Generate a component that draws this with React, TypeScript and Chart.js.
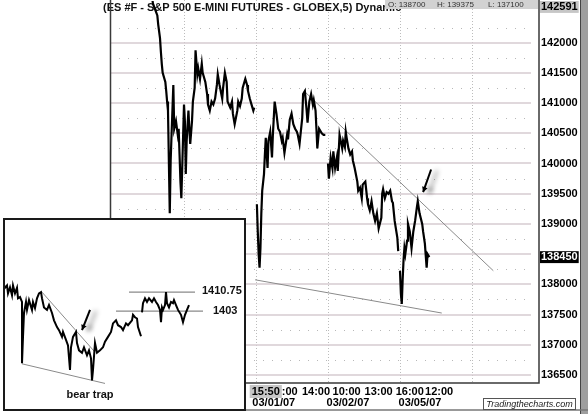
import React, { useEffect, useRef } from "react";
import { Chart, registerables } from "chart.js";
Chart.register(...registerables);

const FONT = "'Liberation Sans', Arial, Helvetica, sans-serif";

// ---------- MAIN CHART DATA (5-minute bars, 81 per session; ES price x100) ----------
const chartTitle = "(ES #F - S&P 500 E-MINI FUTURES - GLOBEX,5) Dynamic";
const ohlText = ["O: 138700", "H: 139375", "L: 137100"];
const watermark = "Tradingthecharts.com";

const sessionBreaks = [81, 162, 243, 324, 405];
const priceMajor = [136500, 137000, 137500, 138000, 138500, 139000, 139500, 140000, 140500, 141000, 141500, 142000];
const priceMinor = [136750, 137250, 137750, 138250, 138750, 139250, 139750, 140250, 140750, 141250, 141750, 142250];
const yTicks = [136500, 137000, 137500, 138000, 138450, 139000, 139500, 140000, 140500, 141000, 141500, 142000, 142591];
const lastPrice = 138450;
const topPrice = 142591;
const yMin = 136367;

const timeTickBars = [173, 200, 229.5, 264, 300, 335, 368];
const timeTickLabels = ["15:50", ":00", "14:00", "10:00", "13:00", "16:00", "12:00"];
const dateTickBars = [182, 265.5, 346.5];
const dateTickLabels = ["03/01/07", "03/02/07", "03/05/07"];
const highlightedTime = 173;

// sessions: [bar, price]
const sessionFeb27to28: [number, number][] = [
  [44, 142900], [46, 142650], [51, 142450], [52, 142300], [54, 142075], [55, 141850], [56, 141650], [57, 141500],
  [60, 141350], [61, 141200], [62, 141025], [63, 140875], [65, 139175], [66, 140050], [67, 140475], [69, 141300],
  [70, 140575], [72, 140700], [74, 140475], [75, 140575], [76, 140150], [77, 139700], [78, 139425], [79, 139925],
  [81, 140975], [82, 140700], [83, 139825], [84, 140375], [86, 140875], [87, 140575], [88, 140325], [90, 140700],
  [91, 141025], [93, 141250], [94, 141875], [96, 141475], [97, 141575], [99, 141400], [101, 141650], [102, 141500],
  [105, 141350], [107, 141150], [108, 140975], [110, 140875], [112, 141025], [114, 140975], [116, 141075], [118, 141300],
  [119, 141475], [121, 141300], [124, 141075], [125, 141250], [127, 141500], [129, 141350], [130, 141025], [133, 140925],
  [135, 141025], [136, 140825], [138, 140650], [141, 140875], [142, 141025], [144, 140950], [146, 141075], [147, 141250],
  [150, 141400], [152, 141300], [153, 141200], [155, 141075], [157, 140975], [159, 140875], [160, 140925],
];
const sessionMar01: [number, number][] = [
  [163, 139325], [164, 138875], [165, 138500], [166, 138275], [167, 138600], [168, 139175], [169, 139550], [171, 139825],
  [172, 140150], [173, 140425], [175, 139925], [176, 140375], [178, 140525], [180, 140100], [181, 140475], [183, 141025],
  [185, 140825], [187, 140575], [189, 140525], [191, 140375], [192, 140425], [194, 140175], [197, 140475], [198, 140400],
  [200, 140725], [202, 140825], [204, 140650], [206, 140575], [208, 140525], [209, 140475], [211, 140325], [214, 140750],
  [215, 141150], [217, 141200], [219, 140875], [220, 140675], [222, 141025], [224, 141150], [226, 140975], [227, 141050],
  [229, 140875], [230, 140575], [231, 140250], [233, 140575], [236, 140500], [238, 140475], [240, 140475],
];
const sessionMar02: [number, number][] = [
  [243, 140000], [244, 139750], [246, 140100], [248, 139925], [249, 140200], [251, 139925], [253, 140100], [254, 139875],
  [256, 140475], [259, 140250], [260, 140375], [262, 140275], [263, 140525], [264, 140425], [266, 140250], [268, 140150],
  [270, 140200], [271, 140050], [273, 139925], [276, 139700], [277, 139550], [279, 139600], [281, 139425], [282, 139650],
  [285, 139700], [287, 139425], [288, 139325], [290, 139225], [292, 139375], [294, 139175], [296, 139050], [298, 139175],
  [299, 139050], [300, 138925], [303, 139100], [304, 139500], [305, 139575], [307, 139425], [309, 139525], [311, 139500],
  [313, 139550], [315, 139375], [316, 139350], [318, 139050], [321, 138775], [322, 138550],
];
const sessionMar05: [number, number][] = [
  [324, 138225], [325, 137850], [326, 137675], [327, 138075], [328, 138400], [329, 138600], [330, 138500], [332, 138725],
  [333, 139000], [335, 138875], [337, 138600], [339, 138875], [341, 139050], [343, 139275], [344, 139375], [346, 139175],
  [349, 139000], [350, 138875], [352, 138675], [354, 138275], [355, 138500], [357, 138450],
];
const upperTrend: [number, number][] = [[216, 141200], [429, 138225]];
const lowerTrend: [number, number][] = [[161, 138075], [371, 137525]];
const mainArrow: [number, number][] = [[359, 139900], [350, 139525]];

// ---------- INSET DATA (index points) ----------
const insetLeg1: [number, number][] = [
  [0, 1414.75], [2, 1412.5], [4, 1413.5], [5, 1410.25], [7, 1412.75], [9, 1409.5], [10, 1413.5], [12, 1410.25],
  [14, 1412.5], [15, 1408.25], [17, 1408.75], [19, 1406.75], [19, 1381.75], [20, 1392.5], [21, 1402.25], [23, 1406.75],
  [24, 1403.5], [26, 1407.5], [29, 1403.5], [30, 1406.75], [32, 1404.25], [34, 1408.25], [36, 1410.25], [38, 1410.75],
  [39, 1408.25], [41, 1404.5], [44, 1403.5], [46, 1405.5], [49, 1402.25], [51, 1399.25], [54, 1396.5], [56, 1395.25],
  [59, 1392.5], [60, 1394.5], [63, 1391.25], [65, 1389], [67, 1379], [68, 1388.25], [70, 1392.5], [73, 1394.5],
  [74, 1390], [76, 1387], [79, 1386], [81, 1388.25], [84, 1385], [86, 1387], [88, 1383.75], [89, 1374.75],
  [90, 1379], [92, 1390], [94, 1386], [97, 1387], [100, 1388.25], [102, 1390.5], [105, 1392.5], [108, 1394.5],
  [110, 1398], [113, 1399.25], [115, 1397.25], [118, 1396.5], [120, 1395.25], [123, 1398], [125, 1397.25], [129, 1399.25],
  [130, 1401.5], [132, 1400.5], [134, 1400], [135, 1396.5], [138, 1392.75],
];
const insetLeg2: [number, number][] = [
  [139, 1402.5], [140, 1406.25], [142, 1408.25], [144, 1406.75], [146, 1408.25], [149, 1406.75], [151, 1408.25], [153, 1406.75],
  [155, 1405.5], [157, 1403.5], [158, 1398.5], [159, 1404.5], [160, 1403.5], [162, 1405.5], [163, 1410.75], [164, 1406.25],
  [166, 1404.5], [168, 1406.75], [170, 1406.25], [171, 1407.5], [173, 1405.5], [175, 1403.5], [178, 1401.5], [180, 1398.5],
  [182, 1401.5], [184, 1403.5], [186, 1405.5],
];
const insetUpperTrend: [number, number][] = [[39, 1410.75], [92, 1386.25]];
const insetLowerTrend: [number, number][] = [[19, 1381.5], [102, 1373.5]];
const resistanceLevel = 1410.75;
const resistanceSpan = [126, 192];
const supportLevel = 1403;
const supportSpan = [113, 200];
const levelLabelBars = [199, 210];
const bearTrapLabel: [number, number] = [87, 1368.75];
const insetArrow: [number, number][] = [[87, 1403.5], [79, 1395.25]];

// ---------- helpers ----------
const toPts = (arr: [number, number][]) => arr.map(([x, y]) => ({ x, y }));
const withGaps = (sessions: [number, number][][]) => {
  const out: { x: number; y: number | null }[] = [];
  sessions.forEach((s, i) => {
    if (i > 0) out.push({ x: s[0][0] - 1, y: null });
    out.push(...toPts(s));
  });
  return out;
};

function drawArrow(ctx: CanvasRenderingContext2D, x1: number, y1: number, x2: number, y2: number) {
  ctx.save();
  ctx.shadowColor = "rgba(0,0,0,0.45)";
  ctx.shadowBlur = 5;
  ctx.shadowOffsetX = 6;
  ctx.shadowOffsetY = 1;
  ctx.strokeStyle = "#000";
  ctx.fillStyle = "#000";
  ctx.lineWidth = 2;
  ctx.beginPath();
  ctx.moveTo(x1, y1);
  ctx.lineTo(x2, y2);
  ctx.stroke();
  const ang = Math.atan2(y2 - y1, x2 - x1);
  const L = 6;
  ctx.beginPath();
  ctx.moveTo(x2, y2);
  ctx.lineTo(x2 - L * Math.cos(ang - 0.5), y2 - L * Math.sin(ang - 0.5));
  ctx.lineTo(x2 - L * Math.cos(ang + 0.5), y2 - L * Math.sin(ang + 0.5));
  ctx.closePath();
  ctx.fill();
  ctx.restore();
}

const xLabelMap = new Map<number, string | string[]>();
timeTickBars.forEach((b, i) => xLabelMap.set(b, timeTickLabels[i]));
dateTickBars.forEach((b, i) => xLabelMap.set(b, ["", dateTickLabels[i]]));
const xTickValues = [...timeTickBars, ...dateTickBars].sort((a, b) => a - b);

const mainDecor = {
  id: "mainDecor",
  beforeDatasetsDraw(chart: any) {
    const { ctx, chartArea: a, scales } = chart;
    const x = scales.x, y = scales.y;
    ctx.save();
    const line = (x1: number, y1: number, x2: number, y2: number) => {
      ctx.beginPath(); ctx.moveTo(x1, y1); ctx.lineTo(x2, y2); ctx.stroke();
    };
    // minor dotted horizontal
    ctx.strokeStyle = "#b8b8b8"; ctx.lineWidth = 1; ctx.setLineDash([1, 8]);
    priceMinor.forEach((v) => {
      const py = Math.round(y.getPixelForValue(v)) + 0.5;
      if (py > a.top && py < a.bottom) line(a.left, py, a.right - 8, py);
    });
    // vertical dotted (session breaks)
    ctx.strokeStyle = "#bcbcbc"; ctx.setLineDash([1, 2]);
    sessionBreaks.forEach((b) => {
      const px = Math.round(x.getPixelForValue(b)) + 0.5;
      line(px, 0, px, a.bottom);
    });
    // major solid
    ctx.setLineDash([]); ctx.strokeStyle = "#d6cbd0"; ctx.lineWidth = 1.5;
    priceMajor.forEach((v) => {
      const py = Math.round(y.getPixelForValue(v));
      line(a.left, py, a.right - 8, py);
    });
    // title
    ctx.font = `bold 11px ${FONT}`;
    ctx.fillStyle = "#111";
    ctx.textBaseline = "alphabetic";
    ctx.textAlign = "left";
    ctx.fillText(chartTitle, 103, 11);
    ctx.restore();
  },
  afterDatasetsDraw(chart: any) {
    const { ctx, chartArea: a, scales } = chart;
    const x = scales.x, y = scales.y;
    ctx.save();
    // plot borders
    ctx.strokeStyle = "#3a3a3a"; ctx.lineWidth = 1.5;
    ctx.beginPath();
    ctx.moveTo(a.left + 0.5, 0); ctx.lineTo(a.left + 0.5, a.bottom);
    ctx.lineTo(a.right, a.bottom); ctx.lineTo(a.right, 0);
    ctx.stroke();
    // OHL box
    ctx.fillStyle = "#d2d2d2";
    ctx.fillRect(385, 0, 153, 9);
    ctx.font = `8px ${FONT}`;
    ctx.fillStyle = "#333";
    ctx.textBaseline = "middle";
    [388, 437, 488].forEach((px, i) => ctx.fillText(ohlText[i], px, 4.5));
    // arrow
    const [t, h] = mainArrow;
    drawArrow(ctx, x.getPixelForValue(t[0]), y.getPixelForValue(t[1]), x.getPixelForValue(h[0]), y.getPixelForValue(h[1]));
    // right frame strip
    ctx.fillStyle = "#9e9e9e";
    ctx.fillRect(580, 0, 8, 414);
    ctx.strokeStyle = "#444"; ctx.lineWidth = 1;
    ctx.beginPath(); ctx.moveTo(580.5, 0); ctx.lineTo(580.5, 414); ctx.stroke();
    // bottom line
    ctx.strokeStyle = "#777"; ctx.lineWidth = 1.5;
    ctx.beginPath(); ctx.moveTo(240, 410); ctx.lineTo(588, 410); ctx.stroke();
    // watermark
    ctx.fillStyle = "#fff";
    ctx.fillRect(483, 398, 93, 11);
    ctx.strokeStyle = "#555"; ctx.lineWidth = 1;
    ctx.strokeRect(483.5, 398.5, 92, 11);
    ctx.font = `italic 9px ${FONT}`;
    ctx.fillStyle = "#222";
    ctx.textAlign = "center";
    ctx.textBaseline = "middle";
    ctx.fillText(watermark, 529.5, 404.5);
    ctx.restore();
  },
};

const insetDecor = {
  id: "insetDecor",
  afterDatasetsDraw(chart: any) {
    const { ctx, scales, width, height } = chart;
    const x = scales.x, y = scales.y;
    ctx.save();
    ctx.font = `bold 11px ${FONT}`;
    ctx.fillStyle = "#111";
    ctx.textBaseline = "middle";
    ctx.textAlign = "left";
    ctx.fillText(String(resistanceLevel), x.getPixelForValue(levelLabelBars[0]), y.getPixelForValue(resistanceLevel) - 1);
    ctx.fillText(String(supportLevel), x.getPixelForValue(levelLabelBars[1]), y.getPixelForValue(supportLevel));
    ctx.textAlign = "center";
    ctx.fillText("bear trap", x.getPixelForValue(bearTrapLabel[0]), y.getPixelForValue(bearTrapLabel[1]));
    const [t, h] = insetArrow;
    drawArrow(ctx, x.getPixelForValue(t[0]), y.getPixelForValue(t[1]), x.getPixelForValue(h[0]), y.getPixelForValue(h[1]));
    ctx.strokeStyle = "#1a1a1a";
    ctx.lineWidth = 2;
    ctx.strokeRect(1, 1, width - 2, height - 2);
    ctx.restore();
  },
};

export default function App() {
  const mainRef = useRef<HTMLCanvasElement>(null);
  const insetRef = useRef<HTMLCanvasElement>(null);

  useEffect(() => {
    const tickFont = { family: FONT, size: 11, weight: "bold" as const, lineHeight: 1 };
    const main = new Chart(mainRef.current!, {
      type: "line",
      data: {
        datasets: [
          {
            data: withGaps([sessionFeb27to28, sessionMar01, sessionMar02, sessionMar05]) as any,
            borderColor: "#000",
            borderWidth: 2.2,
            pointRadius: 0,
            spanGaps: false,
            tension: 0,
            clip: { left: 0, top: 6, right: 0, bottom: 0 } as any,
          },
          { data: toPts(upperTrend), borderColor: "#8a8a8a", borderWidth: 1, pointRadius: 0 },
          { data: toPts(lowerTrend), borderColor: "#8a8a8a", borderWidth: 1, pointRadius: 0 },
        ],
      },
      options: {
        animation: false,
        responsive: false,
        devicePixelRatio: 1,
        layout: { padding: { left: 110, top: 5, right: 0, bottom: 0 } },
        plugins: { legend: { display: false }, tooltip: { enabled: false } },
        scales: {
          x: {
            type: "linear",
            position: "bottom",
            min: -2.25,
            max: 480.4,
            grid: { display: false, drawTicks: false },
            border: { display: false },
            afterBuildTicks: (s: any) => { s.ticks = xTickValues.map((v) => ({ value: v })); },
            afterFit: (s: any) => { s.height = 31; },
            ticks: {
              autoSkip: false,
              maxRotation: 0,
              minRotation: 0,
              padding: 3,
              color: "#000",
              font: tickFont,
              callback: (v: any) => xLabelMap.get(Number(v)) ?? "",
              showLabelBackdrop: (c: any) => !!c.tick && c.tick.value === highlightedTime,
              backdropColor: "#c6c6c6",
              backdropPadding: { top: 1, bottom: 1, left: 2, right: 2 },
            } as any,
          },
          y: {
            type: "linear",
            position: "right",
            min: yMin,
            max: topPrice,
            grid: { display: false, drawTicks: false },
            border: { display: false },
            afterBuildTicks: (s: any) => { s.ticks = yTicks.map((v) => ({ value: v })); },
            afterFit: (s: any) => { s.width = 49; },
            ticks: {
              padding: 2,
              font: { family: FONT, size: 11, weight: "bold" as const, lineHeight: 0.9 },
              color: (c: any) => (c.tick && c.tick.value === lastPrice ? "#fff" : "#000"),
              callback: (v: any) => String(v),
              showLabelBackdrop: (c: any) => !!c.tick && (c.tick.value === lastPrice || c.tick.value === topPrice),
              backdropColor: (c: any) => (c.tick && c.tick.value === lastPrice ? "#000" : "#c6c6c6"),
              backdropPadding: { top: 1, bottom: 1, left: 1, right: 1 },
            } as any,
          },
        },
      },
      plugins: [mainDecor],
    });

    const inset = new Chart(insetRef.current!, {
      type: "line",
      data: {
        datasets: [
          { data: withGaps([insetLeg1, insetLeg2]) as any, borderColor: "#000", borderWidth: 2, pointRadius: 0, spanGaps: false },
          { data: toPts(insetUpperTrend), borderColor: "#8a8a8a", borderWidth: 1, pointRadius: 0 },
          { data: toPts(insetLowerTrend), borderColor: "#8a8a8a", borderWidth: 1, pointRadius: 0 },
          { data: resistanceSpan.map((b) => ({ x: b, y: resistanceLevel })), borderColor: "#8a8a8a", borderWidth: 1.2, pointRadius: 0 },
          { data: supportSpan.map((b) => ({ x: b, y: supportLevel })), borderColor: "#8a8a8a", borderWidth: 1.2, pointRadius: 0 },
        ],
      },
      options: {
        animation: false,
        responsive: false,
        devicePixelRatio: 1,
        layout: { padding: 0 },
        plugins: { legend: { display: false }, tooltip: { enabled: false } },
        scales: {
          x: { type: "linear", display: false, min: 0, max: 243 },
          y: { type: "linear", display: false, min: 1362.25, max: 1441 },
        },
      },
      plugins: [insetDecor],
    });

    return () => {
      main.destroy();
      inset.destroy();
    };
  }, []);

  return (
    <div style={{ position: "fixed", left: 0, top: 0, width: 588, height: 414, background: "#fff", overflow: "hidden" }}>
      <canvas ref={mainRef} width={588} height={414} style={{ position: "absolute", left: 0, top: 0 }} />
      <canvas ref={insetRef} width={243} height={193} style={{ position: "absolute", left: 3, top: 218, background: "#fff" }} />
    </div>
  );
}
